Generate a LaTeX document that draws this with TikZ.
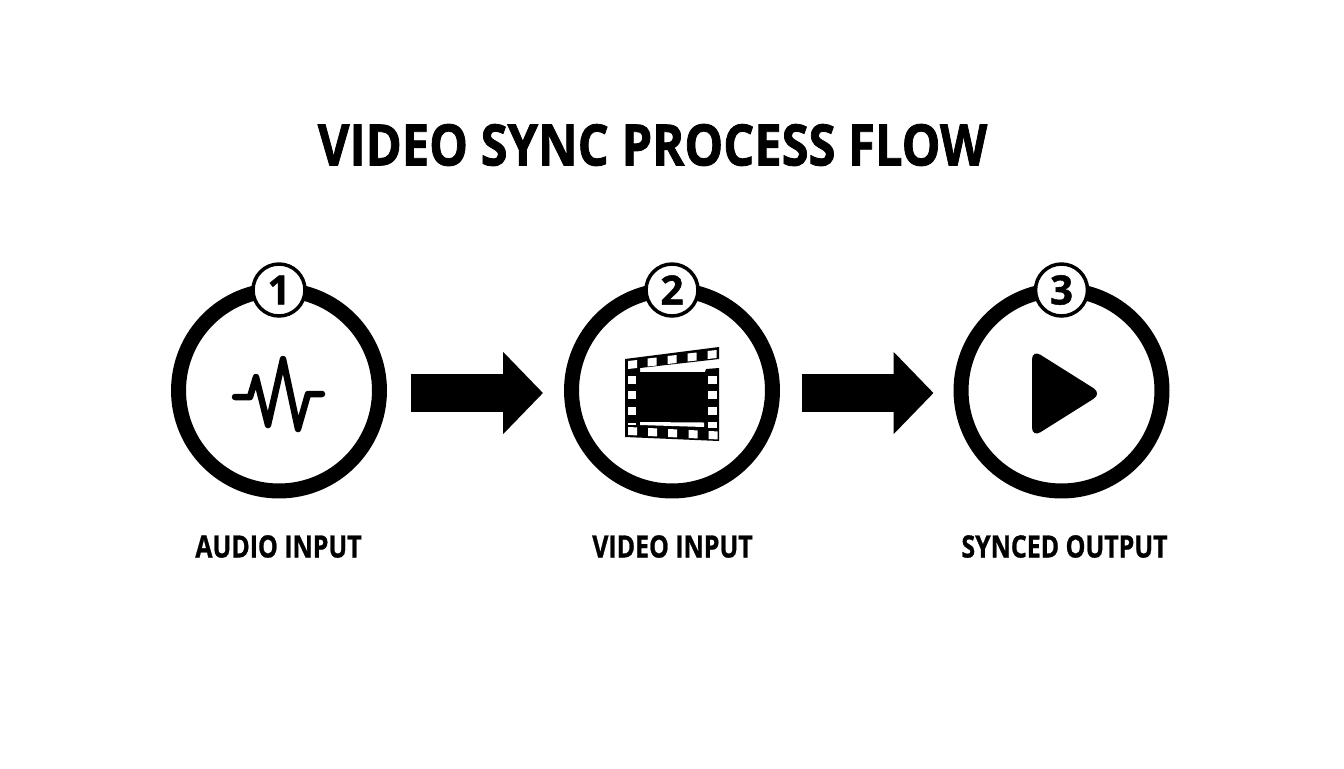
\documentclass[tikz,border=0pt]{standalone}
\usepackage{fontspec}
\setmainfont{Open Sans}
\usetikzlibrary{arrows.meta}

\tikzset{
    ring/.style={draw, circle, line width=0.3cm, minimum size=4.02cm, inner sep=0pt},
    badge/.style={draw, circle, fill=white, line width=0.07cm, minimum size=1.04cm, inner sep=0pt,
        font=\fontsize{23}{23}\selectfont\bfseries\addfontfeature{FakeBold=1.2}},
    steplabel/.style={font=\fontsize{17.5}{17.5}\selectfont\bfseries\addfontfeature{FakeBold=1}, xscale=0.81, inner sep=0pt},
    headline/.style={font=\fontsize{32.5}{32.5}\selectfont\bfseries\addfontfeature{FakeBold=1.5}, xscale=0.855, inner sep=0pt},
    flowarrow/.style={line width=0.76cm, -{Triangle[length=0.8cm,width=1.6cm]}},
    pulse/.style={line width=0.13cm, line cap=round, line join=round}
}

\begin{document}
\begin{tikzpicture}[x=0.02cm, y=-0.02cm]
    \useasboundingbox (0,0) rectangle (1344,768);

    \node[headline] (title) at (652.5,145) {VIDEO SYNC PROCESS FLOW};

    % los tres pasos: anillo, insignia y rótulo
    \foreach \cx/\name/\num/\lx/\txt in {279/audio/1/278.5/AUDIO INPUT,
                                         672/video/2/672.5/VIDEO INPUT,
                                         1061.5/synced/3/1064.5/SYNCED OUTPUT} {
        \node[ring] (\name) at (\cx,390.5) {};
        \node[badge] (badge\num) at (\cx,290) {\num};
        \node[steplabel] (label\num) at (\lx,546.5) {\txt};
    }

    % flechas entre pasos
    \draw[flowarrow, shorten <=0.48cm, shorten >=0.42cm] ([yshift=-0.05cm]audio.east) -- ([yshift=-0.05cm]video.west);
    \draw[flowarrow, shorten <=0.44cm, shorten >=0.4cm] ([yshift=-0.05cm]video.east) -- ([yshift=-0.05cm]synced.west);

    % onda de audio
    \draw[pulse] (235,397) -- (250,397) -- (256,377) -- (268,425) -- (283,359)
        -- (298,429) -- (308,394) -- (322,394);

    % tira de película
    \fill (625,359) -- (719,347) -- (719,359) -- (640,368) -- (640,372) -- (705,372) -- (706,369)
        -- (719,368) -- (719,441) -- (625,437) -- cycle;
    \fill[white] (640,422) -- (704,422.5) -- (704,427) -- (640,425) -- cycle;
    \fill[white] (628,422.5) -- (636,422.5) -- (636,424.5) -- (628,424.5) -- cycle;
    % agujeros de arriba y de abajo
    \foreach \hx/\hy in {628/361, 647.5/358.5, 667.5/356, 687.5/353.5, 707.5/351}
        \fill[white] (\hx,\hy) -- ++(9,-1) -- ++(0,8) -- ++(-9,1) -- cycle;
    \foreach \hx/\hy in {628/427, 648/428, 668/429, 688.5/430, 708.5/431}
        \fill[white] (\hx,\hy) -- ++(9,0.4) -- ++(0,8) -- ++(-9,-0.4) -- cycle;
    % agujeros de los lados
    \foreach \hy in {376, 391, 407} {
        \fill[white] (628,\hy) rectangle ++(8,8);
        \fill[white] (708,\hy) rectangle ++(9,8);
    }
    \fill[white] (708,422) rectangle ++(9,6);

    % triángulo de reproducción
    \fill[rounded corners=0.2cm] (1032,349.5) -- (1102,393.5) -- (1032,437.5) -- cycle;
\end{tikzpicture}
\end{document}
